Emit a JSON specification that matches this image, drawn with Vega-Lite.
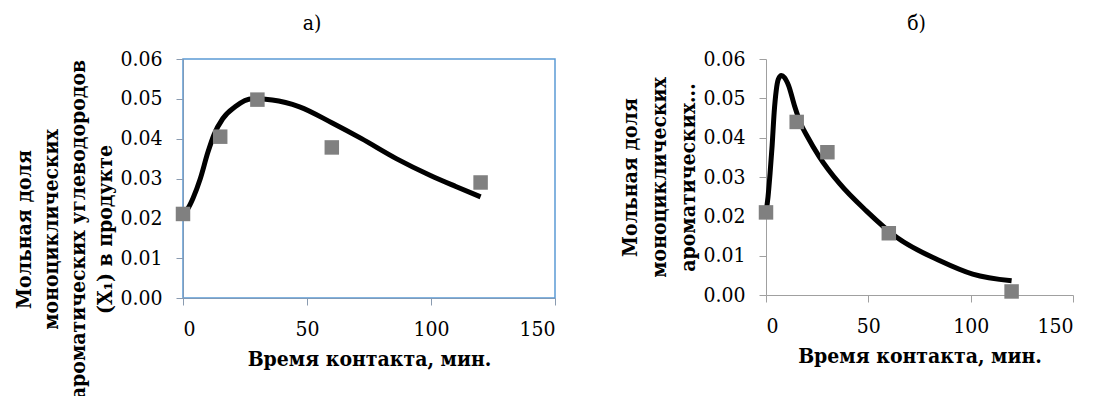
{
  "$schema": "https://vega.github.io/schema/vega-lite/v6.json",
  "background": "white",
  "padding": {"left": 13, "top": 12, "right": 5, "bottom": 5},
  "config": {
    "font": "DejaVu Serif Condensed",
    "axis": {
      "grid": false,
      "labelFont": "DejaVu Serif Condensed",
      "labelFontSize": 21,
      "labelColor": "black",
      "titleFont": "DejaVu Serif Condensed",
      "titleFontSize": 21,
      "titleFontWeight": "bold",
      "titleColor": "black",
      "tickSize": 7
    },
    "title": {"font": "DejaVu Serif Condensed", "fontSize": 21, "fontWeight": "normal", "color": "black"},
    "concat": {"spacing": 62}
  },
  "datasets": {
    "pts_a": [
      {"t": 0, "v": 0.0211}, {"t": 15, "v": 0.0405}, {"t": 30, "v": 0.0498},
      {"t": 60, "v": 0.0378}, {"t": 120, "v": 0.0290}
    ],
    "curve_a": [
      {"t": 0, "v": 0.021}, {"t": 2, "v": 0.0225}, {"t": 4, "v": 0.025}, {"t": 7, "v": 0.030},
      {"t": 10, "v": 0.0365}, {"t": 12.5, "v": 0.041}, {"t": 16, "v": 0.045}, {"t": 21, "v": 0.048},
      {"t": 28, "v": 0.050}, {"t": 36, "v": 0.0497}, {"t": 47, "v": 0.048}, {"t": 60, "v": 0.044},
      {"t": 72, "v": 0.040}, {"t": 86, "v": 0.035}, {"t": 100, "v": 0.0307}, {"t": 110, "v": 0.028},
      {"t": 120, "v": 0.0254}
    ],
    "pts_b": [
      {"t": 0, "v": 0.0210}, {"t": 15, "v": 0.0440}, {"t": 30, "v": 0.0363},
      {"t": 60, "v": 0.0157}, {"t": 120, "v": 0.0009}
    ],
    "curve_b": [
      {"t": 0, "v": 0.021}, {"t": 1, "v": 0.025}, {"t": 2, "v": 0.031}, {"t": 3, "v": 0.038},
      {"t": 4, "v": 0.0465}, {"t": 5, "v": 0.052}, {"t": 6, "v": 0.0548}, {"t": 7.5, "v": 0.0558},
      {"t": 9, "v": 0.0553}, {"t": 11, "v": 0.0533}, {"t": 14, "v": 0.048}, {"t": 17, "v": 0.0435},
      {"t": 20, "v": 0.0405}, {"t": 26, "v": 0.0352}, {"t": 36, "v": 0.0283}, {"t": 49, "v": 0.0214},
      {"t": 64, "v": 0.0146}, {"t": 85, "v": 0.0087}, {"t": 101, "v": 0.0053}, {"t": 120, "v": 0.0036}
    ]
  },
  "hconcat": [
    {
      "title": {"text": "а)", "frame": "group", "anchor": "middle", "dx": -57, "offset": 14},
      "width": 372,
      "height": 239,
      "view": {"stroke": "#5B9BD5", "strokeWidth": 1.5},
      "encoding": {
        "x": {
          "field": "t", "type": "quantitative",
          "scale": {"domain": [0, 150], "nice": false},
          "axis": {"values": [0, 50, 100, 150], "title": "Время контакта, мин.", "labelPadding": 13,
                   "domainColor": "#7F9BBA", "tickColor": "#8A9BB0", "titlePadding": 9}
        },
        "y": {
          "field": "v", "type": "quantitative",
          "scale": {"domain": [0, 0.06], "nice": false},
          "axis": {"values": [0, 0.01, 0.02, 0.03, 0.04, 0.05, 0.06], "format": ".2f",
                   "title": ["Мольная доля", "моноциклических", "ароматических углеводородов", "(X₁) в продукте"],
                   "titleY": 170, "titleLineHeight": 27, "labelPadding": 14,
                   "domainColor": "#7F9BBA", "tickColor": "#8A9BB0"}
        }
      },
      "layer": [
        {
          "data": {"name": "curve_a"},
          "mark": {"type": "line", "color": "black", "strokeWidth": 5, "interpolate": "monotone"}
        },
        {
          "data": {"name": "pts_a"},
          "mark": {"type": "point", "shape": "square", "filled": true, "size": 210, "color": "#808080", "opacity": 1}
        }
      ]
    },
    {
      "title": {"text": "б)", "frame": "group", "anchor": "middle", "dx": -3, "offset": 14},
      "width": 307,
      "height": 236,
      "view": {"stroke": null},
      "encoding": {
        "x": {
          "field": "t", "type": "quantitative",
          "scale": {"domain": [0, 150], "nice": false},
          "axis": {"values": [0, 50, 100, 150], "title": "Время контакта, мин.", "labelPadding": 13,
                   "domainColor": "#A0A0A0", "tickColor": "#A0A0A0", "titlePadding": 9}
        },
        "y": {
          "field": "v", "type": "quantitative",
          "scale": {"domain": [0, 0.06], "nice": false},
          "axis": {"values": [0, 0.01, 0.02, 0.03, 0.04, 0.05, 0.06], "format": ".2f",
                   "title": ["Мольная доля", "моноциклических", "ароматических..."],
                   "titleLineHeight": 29, "labelPadding": 14,
                   "domainColor": "#A0A0A0", "tickColor": "#A0A0A0"}
        }
      },
      "layer": [
        {
          "data": {"name": "curve_b"},
          "mark": {"type": "line", "color": "black", "strokeWidth": 5, "interpolate": "monotone"}
        },
        {
          "data": {"name": "pts_b"},
          "mark": {"type": "point", "shape": "square", "filled": true, "size": 210, "color": "#808080", "opacity": 1}
        }
      ]
    }
  ]
}
